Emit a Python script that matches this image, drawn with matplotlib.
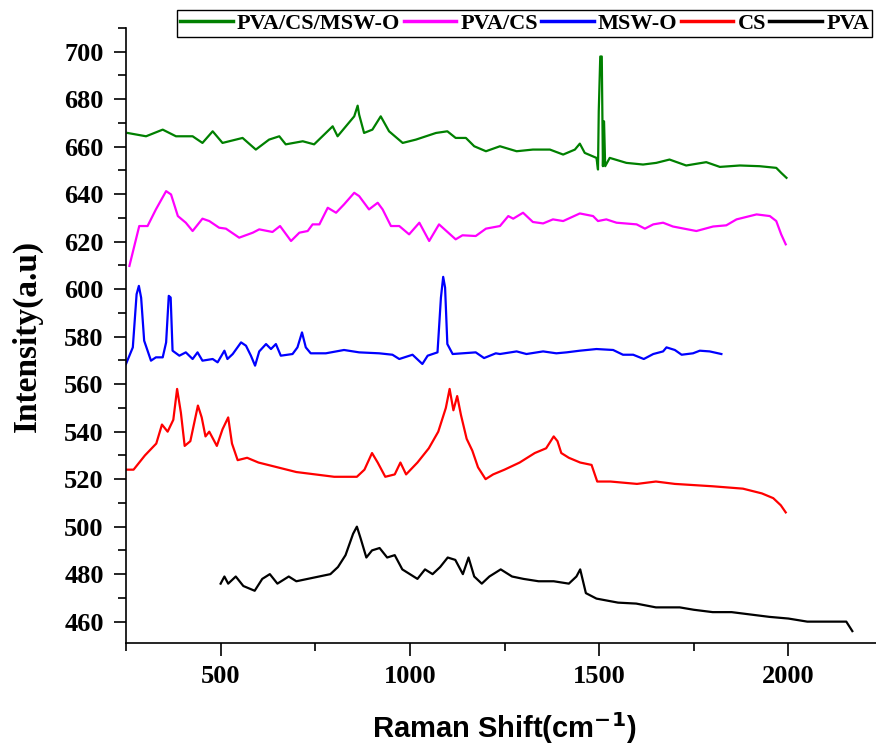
#!/usr/bin/env python3

import matplotlib
matplotlib.use('Agg')
import matplotlib.pyplot as plt
from matplotlib.ticker import MultipleLocator

# Raman spectra (x in cm^-1, y in a.u.)
pva_cs_msw_x = [254, 303, 347, 382, 426, 452, 479, 505, 558, 593, 628, 655, 672, 717, 747,
                778, 796, 809, 831, 853, 862, 866, 879, 901, 923, 945, 981, 1016, 1069, 1099,
                1121, 1148, 1170, 1201, 1238, 1282, 1325, 1370, 1405, 1436, 1449, 1462, 1493,
                1497, 1499, 1503, 1507, 1510, 1513, 1516, 1528, 1572, 1616, 1651, 1686, 1730,
                1783, 1819, 1872, 1924, 1968, 1981, 1995]
pva_cs_msw_y = [665.8, 664.4, 667.2, 664.4, 664.4, 661.6, 666.5, 661.6, 663.7, 658.8, 663.0,
                664.4, 661.0, 662.3, 661.0, 665.8, 668.6, 664.4, 668.6, 672.8, 677.3, 673.5,
                665.8, 667.2, 672.8, 666.5, 661.6, 663.0, 665.8, 666.5, 663.7, 663.7, 660.2,
                658.1, 660.2, 658.1, 658.8, 658.8, 656.7, 658.8, 661.3, 657.4, 655.3, 650.4,
                674.9, 698.0, 698.0, 651.8, 670.7, 651.8, 655.3, 653.2, 652.5, 653.2, 654.6,
                652.1, 653.5, 651.5, 652.1, 651.8, 651.1, 649.0, 646.9]

pva_cs_x = [259, 285, 307, 329, 356, 369, 387, 408, 426, 452, 470, 496, 514, 549, 585, 602,
            637, 657, 686, 708, 730, 743, 761, 783, 805, 826, 853, 866, 892, 915, 928, 950,
            972, 998, 1025, 1051, 1077, 1121, 1139, 1174, 1201, 1238, 1260, 1273, 1299, 1325,
            1352, 1378, 1405, 1449, 1484, 1497, 1519, 1546, 1599, 1621, 1643, 1669, 1695,
            1757, 1801, 1836, 1863, 1916, 1951, 1968, 1981, 1993]
pva_cs_y = [609.8, 626.6, 626.6, 633.6, 641.3, 639.9, 630.8, 628.0, 624.5, 629.7, 628.7,
            625.9, 625.5, 621.7, 623.8, 625.2, 624.1, 626.6, 620.3, 623.8, 624.5, 627.3,
            627.3, 634.3, 632.2, 635.7, 640.6, 639.2, 633.6, 636.4, 633.6, 626.6, 626.6,
            623.1, 628.0, 620.3, 627.3, 621.0, 622.7, 622.4, 625.5, 626.6, 630.8, 629.7,
            632.2, 628.3, 627.7, 629.4, 628.7, 631.9, 630.8, 628.7, 629.4, 628.0, 627.3,
            625.5, 627.3, 628.0, 626.4, 624.5, 626.4, 626.9, 629.4, 631.5, 630.8, 628.7,
            623.1, 618.9]

msw_x = [250, 268, 278, 284, 290, 298, 316, 329, 347, 356, 363, 368, 373, 391, 408, 426,
         439, 452, 479, 492, 510, 518, 532, 554, 567, 580, 591, 602, 620, 633, 646, 659,
         690, 703, 715, 725, 738, 778, 826, 866, 919, 954, 972, 1007, 1033, 1047, 1073,
         1082, 1088, 1093, 1099, 1113, 1174, 1196, 1227, 1238, 1282, 1308, 1352, 1387,
         1414, 1449, 1493, 1537, 1563, 1590, 1618, 1643, 1669, 1678, 1700, 1718, 1748,
         1766, 1792, 1823]
msw_y = [568.5, 575.5, 597.9, 601.4, 596.4, 578.3, 569.9, 571.3, 571.3, 577.6, 597.2,
         596.5, 574.1, 572.0, 573.4, 570.6, 573.4, 569.9, 570.6, 569.2, 574.1, 570.6,
         572.7, 577.6, 576.2, 572.0, 567.8, 573.8, 576.9, 574.8, 576.9, 572.0, 572.7,
         575.5, 581.8, 575.5, 573.0, 573.0, 574.4, 573.4, 573.0, 572.4, 570.6, 572.4,
         568.5, 572.0, 573.4, 596.4, 605.2, 600.7, 576.9, 572.7, 573.4, 571.0, 573.0,
         572.7, 573.8, 572.7, 573.8, 573.0, 573.4, 574.1, 574.8, 574.4, 572.4, 572.4,
         570.6, 572.7, 573.8, 575.5, 574.4, 572.4, 573.0, 574.1, 573.8, 572.7]

cs_x = [252, 270, 300, 330, 345, 360, 375, 385, 395, 405, 420, 440, 450, 460, 470, 490,
        505, 520, 530, 545, 570, 600, 650, 700, 750, 800, 860, 880, 900, 915, 935, 960,
        975, 990, 1020, 1050, 1075, 1095, 1105, 1115, 1125, 1135, 1150, 1165, 1180, 1200,
        1220, 1250, 1290, 1330, 1360, 1380, 1390, 1400, 1420, 1450, 1480, 1495, 1530,
        1600, 1650, 1700, 1800, 1880, 1930, 1960, 1980, 1993]
cs_y = [524, 524, 530, 535, 543, 540, 545, 558, 548, 534, 536, 551, 546, 538, 540, 534,
        541, 546, 535, 528, 529, 527, 525, 523, 522, 521, 521, 524, 531, 527, 521, 522,
        527, 522, 527, 533, 540, 550, 558, 549, 555, 547, 537, 532, 525, 520, 522, 524,
        527, 531, 533, 538, 536, 531, 529, 527, 526, 519, 519, 518, 519, 518, 517, 516,
        514, 512, 509, 506]

pva_x = [500, 510, 520, 540, 560, 590, 610, 630, 650, 680, 700, 730, 760, 790, 810, 830,
         850, 860, 870, 885, 900, 920, 940, 960, 980, 1000, 1020, 1040, 1060, 1080, 1100,
         1120, 1140, 1155, 1170, 1190, 1210, 1240, 1270, 1300, 1340, 1380, 1420, 1440,
         1450, 1465, 1493, 1550, 1598, 1650, 1713, 1750, 1800, 1850, 1900, 1950, 2000,
         2050, 2100, 2153, 2169]
pva_y = [476, 479, 476, 479, 475, 473, 478, 480, 476, 479, 477, 478, 479, 480, 483, 488,
         497, 500, 495, 487, 490, 491, 487, 488, 482, 480, 478, 482, 480, 483, 487, 486,
         480, 487, 479, 476, 479, 482, 479, 478, 477, 477, 476, 479, 482, 472, 469.7, 468,
         467.6, 466, 466, 465, 464, 464, 463, 462, 461.3, 460, 460, 460, 456]

series = [
    ('PVA/CS/MSW-O', pva_cs_msw_x, pva_cs_msw_y, 'green'),
    ('PVA/CS', pva_cs_x, pva_cs_y, 'magenta'),
    ('MSW-O', msw_x, msw_y, 'blue'),
    ('CS', cs_x, cs_y, 'red'),
    ('PVA', pva_x, pva_y, 'black'),
]

serif = ['Liberation Serif', 'DejaVu Serif']

fig = plt.figure(figsize=(8.76, 7.47), dpi=100)
ax = fig.add_axes([126 / 876, 104 / 747, 757 / 876, 615 / 747])

for name, xs, ys, col in series:
    ax.plot(xs, ys, color=col, lw=1.6, label=name)

ax.set_xlim(250, 2250)
ax.set_ylim(451, 710)
ax.xaxis.set_major_locator(MultipleLocator(500))
ax.xaxis.set_minor_locator(MultipleLocator(250))
ax.yaxis.set_major_locator(MultipleLocator(20))
ax.yaxis.set_minor_locator(MultipleLocator(10))
ax.tick_params(which='major', direction='out', length=9, width=1.2, pad=7)
ax.tick_params(which='minor', direction='out', length=6, width=1.2)
for s in ['top', 'right']:
    ax.spines[s].set_visible(False)
for s in ['left', 'bottom']:
    ax.spines[s].set_linewidth(1.2)

for lab in ax.get_xticklabels() + ax.get_yticklabels():
    lab.set_fontfamily(serif)
    lab.set_fontweight('bold')
    lab.set_fontsize(19)

ax.set_xlabel('Raman Shift(cm$^{\\mathbf{-1}}$)', family='Liberation Sans',
              fontweight='bold', fontsize=21, labelpad=16)
ax.set_ylabel('Intensity(a.u)', family=serif, fontweight='bold', fontsize=24, labelpad=15)

leg = fig.legend(loc='upper left', bbox_to_anchor=(177 / 876, 1 - 10 / 747), ncol=5,
                 prop={'family': serif, 'weight': 'bold', 'size': 16},
                 handlelength=2.35, handletextpad=0.2, columnspacing=0.15,
                 borderpad=0.15, borderaxespad=0, fancybox=False,
                 edgecolor='black', framealpha=1)
leg.get_frame().set_linewidth(1.0)
for line in leg.get_lines():
    line.set_linewidth(2.5)

fig.savefig('out.png', dpi=100)
